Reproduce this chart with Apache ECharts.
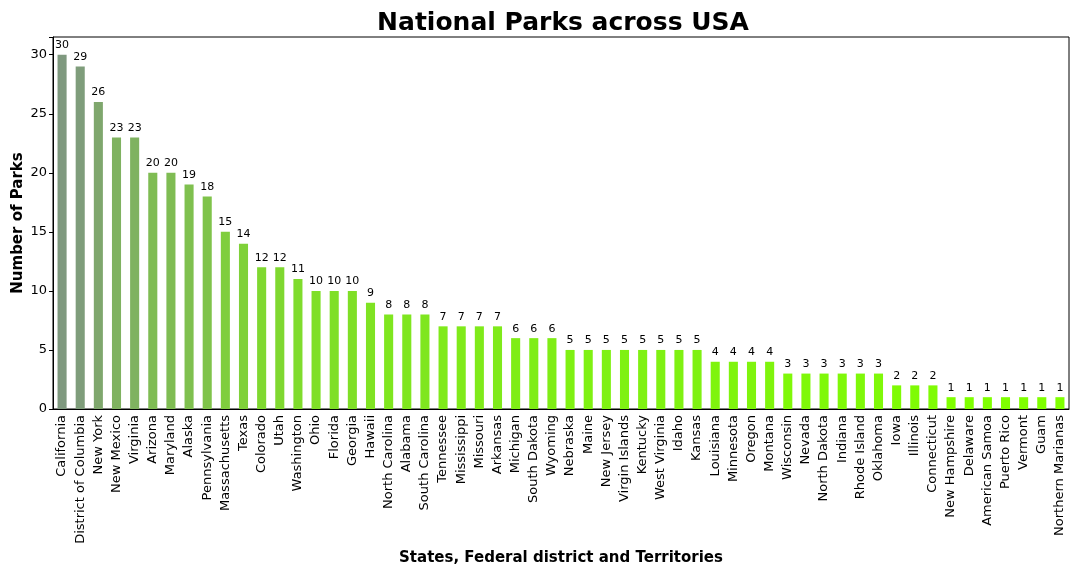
<!DOCTYPE html>
<html><head><meta charset="utf-8">
<script src="https://cdn.jsdelivr.net/npm/echarts@6/dist/echarts.min.js"></script>
<style>html,body{margin:0;padding:0;background:#fff}#c{width:1080px;height:576px}</style>
</head><body><div id="c"></div>
<script>
const categories = ["California","District of Columbia","New York","New Mexico","Virginia","Arizona","Maryland","Alaska","Pennsylvania","Massachusetts","Texas","Colorado","Utah","Washington","Ohio","Florida","Georgia","Hawaii","North Carolina","Alabama","South Carolina","Tennessee","Mississippi","Missouri","Arkansas","Michigan","South Dakota","Wyoming","Nebraska","Maine","New Jersey","Virgin Islands","Kentucky","West Virginia","Idaho","Kansas","Louisiana","Minnesota","Oregon","Montana","Wisconsin","Nevada","North Dakota","Indiana","Rhode Island","Oklahoma","Iowa","Illinois","Connecticut","New Hampshire","Delaware","American Samoa","Puerto Rico","Vermont","Guam","Northern Marianas"];
const parks = [30,29,26,23,23,20,20,19,18,15,14,12,12,11,10,10,10,9,8,8,8,7,7,7,7,6,6,6,5,5,5,5,5,5,5,5,4,4,4,4,3,3,3,3,3,3,2,2,2,1,1,1,1,1,1,1];
const yTicks = [0,5,10,15,20,25,30];

const lo = [127,255,0], hi = [127,153,127];
function colorFor(v){
  const t = (v-1)/29;
  const c = lo.map((a,i)=>Math.round(a+(hi[i]-a)*t));
  return 'rgb('+c.join(',')+')';
}
const font = 'DejaVu Sans';
const chart = echarts.init(document.getElementById('c'));
chart.setOption({
  animation:false,
  textStyle:{fontFamily:font},
  title:{text:'National Parks across USA',left:558,top:6,textAlign:'center',
    textStyle:{fontFamily:font,fontSize:25,fontWeight:'bold',color:'#000'}},
  grid:{left:53,right:11,top:37,bottom:167,show:true,borderColor:'#000',borderWidth:1,containLabel:false,outerBoundsMode:'none'},
  xAxis:{type:'category',data:categories,boundaryGap:true,
    name:'States, Federal district and Territories',nameLocation:'middle',nameGap:142,nameMoveOverlap:false,
    nameTextStyle:{fontFamily:font,fontSize:15,fontWeight:'bold',color:'#000'},
    axisLine:{lineStyle:{color:'#000'}},
    axisTick:{alignWithLabel:true,length:4,lineStyle:{color:'#000'}},
    axisLabel:{rotate:90,interval:0,fontSize:13,color:'#000',margin:6}},
  yAxis:{type:'value',min:0,max:31.5,interval:5,
    name:'Number of Parks',nameLocation:'middle',nameGap:27,nameMoveOverlap:false,
    nameTextStyle:{fontFamily:font,fontSize:15,fontWeight:'bold',color:'#000'},
    axisLine:{show:true,lineStyle:{color:'#000'}},
    axisTick:{show:true,length:4,lineStyle:{color:'#000'}},
    splitLine:{show:false},
    axisLabel:{fontSize:13,color:'#000',margin:6,
      formatter:function(v){return yTicks.indexOf(v)>=0?String(v):'';}}},
  series:[{type:'bar',barWidth:'50%',
    data:parks.map(v=>({value:v,itemStyle:{color:colorFor(v)}})),
    label:{show:true,position:'top',distance:4,fontSize:11,color:'#000'}}]
});
</script></body></html>
